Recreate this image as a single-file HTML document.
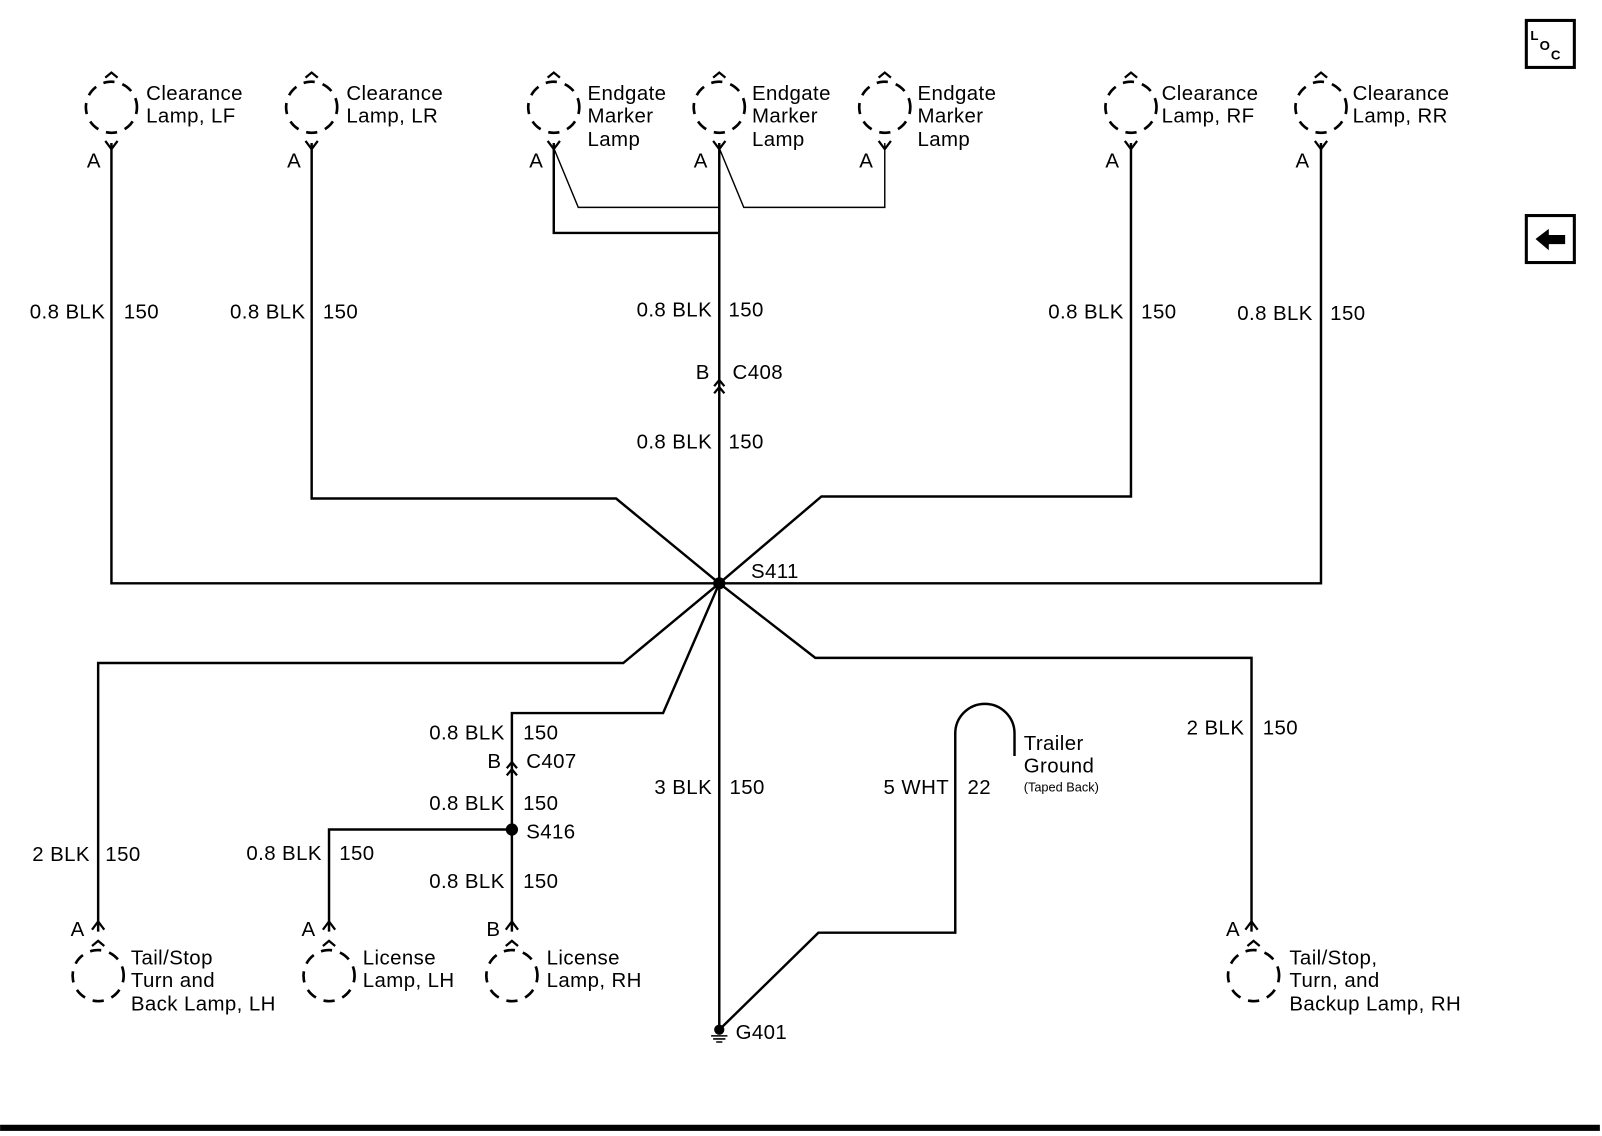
<!DOCTYPE html>
<html><head><meta charset="utf-8"><style>
html,body{margin:0;padding:0;background:#fff;}
svg{display:block;}
text{font-family:"Liberation Sans",sans-serif;font-size:20px;letter-spacing:0.4px;fill:#000;}
.r{text-anchor:end;}
</style></head><body>
<svg width="1602" height="1136" viewBox="0 0 1568 1112" xmlns="http://www.w3.org/2000/svg">
<defs>
<g id="lamp">
<circle cx="0" cy="0" r="25" fill="none" stroke="#000" stroke-width="2.6" stroke-dasharray="11 8" transform="rotate(-10)"/>
<path d="M-6,-29 L0,-34 L6,-29" fill="none" stroke="#000" stroke-width="2.2"/>
</g>
</defs>
<g fill="none" stroke="#000" stroke-width="2.4">
<path d="M109,140V571H1293V140"/>
<path d="M305,140V488H603L704,571"/>
<path d="M1107,140V486H804L704,571"/>
<path d="M542,140V228H704"/>
<path d="M704,140V1008"/>
<path d="M542,145L566,203H704M704,145L728,203H866V140" stroke-width="1.4"/>
<path d="M704,571L610,649H96V912"/>
<path d="M704,571L649,698H501V912"/>
<path d="M501,812H322V912"/>
<path d="M704,571L798,644H1225V912"/>
<path d="M704,1008L801,913H935V718A29,29 0 0 1 993,718V740"/>
</g>
<g fill="none" stroke="#000" stroke-width="2.2">
<path d="M103,138L109,146L115,138"/><path d="M299,138L305,146L311,138"/>
<path d="M536,138L542,146L548,138"/><path d="M698,138L704,146L710,138"/>
<path d="M860,138L866,146L872,138"/><path d="M1101,138L1107,146L1113,138"/>
<path d="M1287,138L1293,146L1299,138"/>
<path d="M90,910L96,902L102,910"/><path d="M316,910L322,902L328,910"/>
<path d="M495,910L501,902L507,910"/><path d="M1219,910L1225,902L1231,910"/>
<path d="M699,378L704,372L709,378M699,385L704,379L709,385"/>
<path d="M496,752L501,746L506,752M496,759L501,753L506,759"/>
</g>
<g transform="translate(109,105)"><use href="#lamp"/></g>
<g transform="translate(305,105)"><use href="#lamp"/></g>
<g transform="translate(542,105)"><use href="#lamp"/></g>
<g transform="translate(704,105)"><use href="#lamp"/></g>
<g transform="translate(866,105)"><use href="#lamp"/></g>
<g transform="translate(1107,105)"><use href="#lamp"/></g>
<g transform="translate(1293,105)"><use href="#lamp"/></g>
<g transform="translate(96,955)"><use href="#lamp"/></g>
<g transform="translate(322,955)"><use href="#lamp"/></g>
<g transform="translate(501,955)"><use href="#lamp"/></g>
<g transform="translate(1227,955)"><use href="#lamp"/></g>
<circle cx="704" cy="571" r="6" fill="#000"/>
<circle cx="501" cy="812" r="6" fill="#000"/>
<circle cx="704" cy="1008" r="5" fill="#000"/>
<path d="M696,1014H712M698,1017H710M701,1020H707" stroke="#000" stroke-width="1.5"/>
<text x="143" y="98">Clearance</text><text x="143" y="120">Lamp, LF</text>
<text x="339" y="98">Clearance</text><text x="339" y="120">Lamp, LR</text>
<text x="575" y="98">Endgate</text><text x="575" y="120">Marker</text><text x="575" y="143">Lamp</text>
<text x="736" y="98">Endgate</text><text x="736" y="120">Marker</text><text x="736" y="143">Lamp</text>
<text x="898" y="98">Endgate</text><text x="898" y="120">Marker</text><text x="898" y="143">Lamp</text>
<text x="1137" y="98">Clearance</text><text x="1137" y="120">Lamp, RF</text>
<text x="1324" y="98">Clearance</text><text x="1324" y="120">Lamp, RR</text>
<text x="85" y="164">A</text><text x="281" y="164">A</text><text x="518" y="164">A</text>
<text x="679" y="164">A</text><text x="841" y="164">A</text><text x="1082" y="164">A</text><text x="1268" y="164">A</text>
<text class="r" x="103" y="312">0.8 BLK</text><text x="121" y="312">150</text>
<text class="r" x="299" y="312">0.8 BLK</text><text x="316" y="312">150</text>
<text class="r" x="697" y="310">0.8 BLK</text><text x="713" y="310">150</text>
<text class="r" x="697" y="439">0.8 BLK</text><text x="713" y="439">150</text>
<text class="r" x="1100" y="312">0.8 BLK</text><text x="1117" y="312">150</text>
<text class="r" x="1285" y="313">0.8 BLK</text><text x="1302" y="313">150</text>
<text x="681" y="371">B</text><text x="717" y="371">C408</text>
<text x="735" y="566">S411</text>
<text class="r" x="88" y="843">2 BLK</text><text x="103" y="843">150</text>
<text class="r" x="494" y="724">0.8 BLK</text><text x="512" y="724">150</text>
<text x="477" y="752">B</text><text x="515" y="752">C407</text>
<text class="r" x="494" y="793">0.8 BLK</text><text x="512" y="793">150</text>
<text x="515" y="821">S416</text>
<text class="r" x="315" y="842">0.8 BLK</text><text x="332" y="842">150</text>
<text class="r" x="494" y="869">0.8 BLK</text><text x="512" y="869">150</text>
<text class="r" x="697" y="777">3 BLK</text><text x="714" y="777">150</text>
<text class="r" x="929" y="777">5 WHT</text><text x="947" y="777">22</text>
<text x="1002" y="734">Trailer</text><text x="1002" y="756">Ground</text>
<text x="1002" y="775" style="font-size:12.5px;letter-spacing:0">(Taped Back)</text>
<text class="r" x="1218" y="719">2 BLK</text><text x="1236" y="719">150</text>
<text x="720" y="1017">G401</text>
<text x="69" y="916">A</text><text x="295" y="916">A</text><text x="476" y="916">B</text><text x="1200" y="916">A</text>
<text x="128" y="944">Tail/Stop</text><text x="128" y="966">Turn and</text><text x="128" y="989">Back Lamp, LH</text>
<text x="355" y="944">License</text><text x="355" y="966">Lamp, LH</text>
<text x="535" y="944">License</text><text x="535" y="966">Lamp, RH</text>
<text x="1262" y="944">Tail/Stop,</text><text x="1262" y="966">Turn, and</text><text x="1262" y="989">Backup Lamp, RH</text>
<rect x="1494" y="20" width="47" height="46" fill="none" stroke="#000" stroke-width="3"/>
<text x="1498" y="39" style="font-size:13px;font-weight:bold;letter-spacing:0">L</text>
<text x="1507" y="49" style="font-size:13px;font-weight:bold;letter-spacing:0">O</text>
<text x="1518" y="58" style="font-size:13px;font-weight:bold;letter-spacing:0">C</text>
<rect x="1494" y="211" width="47" height="46" fill="none" stroke="#000" stroke-width="3"/>
<path d="M1503,234L1516,224V230H1532V239H1516V245Z" fill="#000"/>
<rect x="0" y="1101" width="1566" height="6" fill="#000"/>
</svg>
</body></html>
